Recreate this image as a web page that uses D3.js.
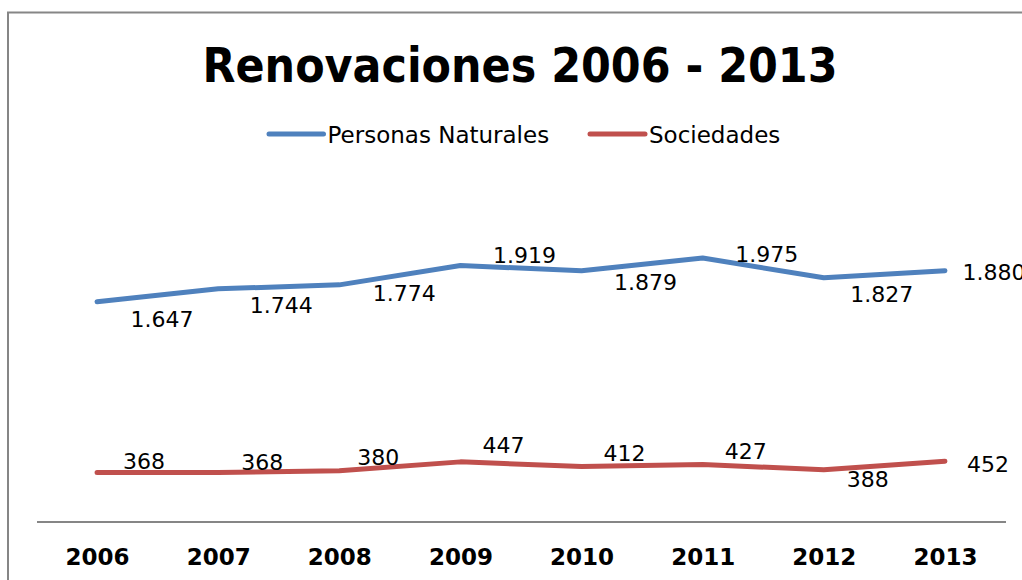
<!DOCTYPE html>
<html>
<head>
<meta charset="utf-8">
<script src="https://cdn.jsdelivr.net/npm/d3@7"></script>
<style>
  body { margin: 0; background: #fff; }
  svg { display: block; font-family: "DejaVu Sans", Verdana, sans-serif; }
</style>
</head>
<body>
<svg id="drawing_region"></svg>
<script>
// datos
const years = ['2006', '2007', '2008', '2009', '2010', '2011', '2012', '2013'];
const personas = [1647, 1744, 1774, 1919, 1879, 1975, 1827, 1880];
const sociedades = [368, 368, 380, 447, 412, 427, 388, 452];
const seriesNames = ['Personas Naturales', 'Sociedades'];

// desplazamiento de las etiquetas (dx, dy) respecto al punto
const personasLabelOffsets = [[65, 25], [63, 24], [65, 16], [64, -2.5], [64, 19], [64, 4], [58, 24], [49, 9]];
const sociedadesLabelOffsets = [[47, -3], [44, -2], [39, -6], [43, -9], [43, -6], [43, -6], [44, 17], [43, 10.5]];

const config = {
    width: 1022,
    height: 580,
    left: 36.5,
    right: 1005.5,
    zeroY: 521.5,
    topY: 188
};

const colors = ['#4F81BD', '#C0504D'];
const fmt = d3.formatLocale({ decimal: ',', thousands: '.', grouping: [3], currency: ['', ''] }).format(',');

const svg = d3.select('#drawing_region')
    .attr('width', config.width)
    .attr('height', config.height);

// marco del gráfico
svg.append('rect')
    .attr('x', 8)
    .attr('y', 12.5)
    .attr('width', 1100)
    .attr('height', 700)
    .attr('fill', 'none')
    .attr('stroke', '#868686')
    .attr('stroke-width', 2);

// título
svg.append('text')
    .attr('x', 202.5)
    .attr('y', 82)
    .attr('font-size', 48)
    .attr('font-weight', 'bold')
    .attr('textLength', 635)
    .attr('lengthAdjust', 'spacingAndGlyphs')
    .text('Renovaciones 2006 - 2013');

const xscale = d3.scalePoint()
    .domain(years)
    .range([config.left, config.right])
    .padding(0.5);

const yscale = d3.scaleLinear()
    .domain([0, 2500])
    .range([config.zeroY, config.topY]);

// eje x
const xaxis = d3.axisBottom(xscale)
    .tickSize(0)
    .tickSizeOuter(0)
    .tickPadding(27);

const xaxis_group = svg.append('g')
    .attr('transform', `translate(0, ${config.zeroY})`)
    .call(xaxis);

xaxis_group.select('.domain')
    .attr('stroke', '#868686')
    .attr('stroke-width', 2);

xaxis_group.selectAll('text')
    .attr('font-family', '"DejaVu Sans", Verdana, sans-serif')
    .attr('font-size', 23)
    .attr('font-weight', 'bold')
    .attr('fill', '#000');

// líneas
const line = d3.line()
    .x((d, i) => xscale(years[i]))
    .y(d => yscale(d));

const series = [
    { values: personas, offsets: personasLabelOffsets },
    { values: sociedades, offsets: sociedadesLabelOffsets }
];

series.forEach((s, k) => {
    svg.append('path')
        .datum(s.values)
        .attr('d', line)
        .attr('fill', 'none')
        .attr('stroke', colors[k])
        .attr('stroke-width', 5)
        .attr('stroke-linecap', 'round')
        .attr('stroke-linejoin', 'round');

    svg.append('g')
        .selectAll('text')
        .data(s.values)
        .join('text')
        .attr('x', (d, i) => xscale(years[i]) + s.offsets[i][0])
        .attr('y', (d, i) => yscale(d) + s.offsets[i][1])
        .attr('text-anchor', 'middle')
        .attr('font-size', 22)
        .attr('fill', '#000')
        .text(d => fmt(d));
});

// leyenda
const legendItems = [
    { x1: 269, x2: 323.5, tx: 327.5 },
    { x1: 590, x2: 645, tx: 649 }
];

const legend = svg.append('g');
legendItems.forEach((it, k) => {
    legend.append('line')
        .attr('x1', it.x1)
        .attr('x2', it.x2)
        .attr('y1', 134)
        .attr('y2', 134)
        .attr('stroke', colors[k])
        .attr('stroke-width', 5)
        .attr('stroke-linecap', 'round');
    legend.append('text')
        .attr('x', it.tx)
        .attr('y', 143)
        .attr('font-size', 23)
        .attr('fill', '#000')
        .text(seriesNames[k]);
});
</script>
</body>
</html>
